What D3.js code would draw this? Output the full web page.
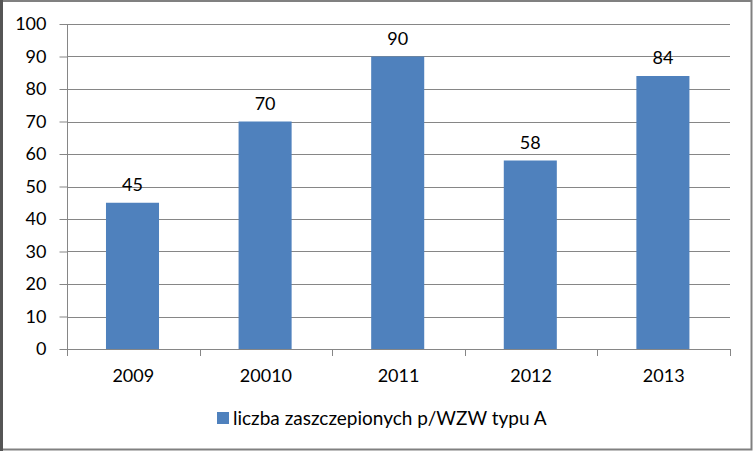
<!DOCTYPE html>
<html><head><meta charset="utf-8">
<script src="https://cdn.jsdelivr.net/npm/d3@7"></script>
<style>body{margin:0;background:#fff;}svg{display:block;font-family:Lato,"Open Sans",sans-serif;}</style>
</head><body>
<svg id="c" width="753" height="451"></svg>
<script>
const categories = ["2009","20010","2011","2012","2013"];
const values = [45,70,90,58,84];
const yTicks = [0,10,20,30,40,50,60,70,80,90,100];
const seriesName = "liczba zaszczepionych p/WZW typu A";

const svg = d3.select("#c");
const W = 753, H = 451;
const m = {left:67, right:730, top:24, bottom:349};
const color = "#4F81BD", grid = "#868686";

// frame
svg.append("rect").attr("x",1).attr("y",1).attr("width",W-2.5).attr("height",H-2.5)
  .attr("fill","#fff").attr("stroke","#808080").attr("stroke-width",2);
svg.append("line").attr("x1",1.5).attr("x2",1.5).attr("y1",0).attr("y2",H).attr("stroke","#555").attr("stroke-width",3);

const x = d3.scaleBand().domain(categories).range([m.left,m.right]).paddingInner(0).paddingOuter(0);
const y = d3.scaleLinear().domain([0,100]).range([m.bottom,m.top]);

// gridlines
svg.append("g").selectAll("line").data(yTicks.filter(d=>d>0)).join("line")
  .attr("x1",m.left).attr("x2",m.right).attr("y1",d=>Math.round(y(d))+0.5).attr("y2",d=>Math.round(y(d))+0.5)
  .attr("stroke",grid).attr("stroke-width",1);

// y axis
const ya = svg.append("g").attr("transform",`translate(${m.left+0.5},0)`)
  .call(d3.axisLeft(y).tickValues(yTicks).tickSize(8).tickPadding(13).tickFormat(d3.format("d")));
ya.select(".domain").attr("stroke",grid).attr("d",`M0,${m.top}V${m.bottom}`);
ya.selectAll(".tick line").attr("stroke",grid);
ya.selectAll(".tick text").attr("font-size",18).attr("font-family","Lato").attr("fill","#000");

// bars
const bw = x.bandwidth()*0.4;
svg.append("g").selectAll("rect").data(values).join("rect")
  .attr("x",(d,i)=>x(categories[i])+x.bandwidth()/2-bw/2-0.8)
  .attr("width",bw)
  .attr("y",d=>y(d)).attr("height",d=>m.bottom-y(d))
  .attr("fill",color);

// x axis
const xa = svg.append("g").attr("transform",`translate(0,${m.bottom+0.5})`)
  .call(d3.axisBottom(x).tickSize(0).tickPadding(20));
xa.select(".domain").attr("stroke",grid).attr("d",`M${m.left},0H${m.right}`);
xa.selectAll(".tick text").attr("font-size",18).attr("font-family","Lato").attr("fill","#000");
// category boundary ticks
const bounds = categories.map(c=>x(c)).concat([m.right]);
svg.append("g").selectAll("line").data(bounds).join("line")
  .attr("x1",d=>Math.round(d)+0.5).attr("x2",d=>Math.round(d)+0.5)
  .attr("y1",m.bottom).attr("y2",m.bottom+7).attr("stroke",grid);

// data labels
svg.append("g").selectAll("text").data(values).join("text")
  .attr("x",(d,i)=>x(categories[i])+x.bandwidth()/2-0.8)
  .attr("y",d=>y(d)-12)
  .attr("text-anchor","middle").attr("font-size",18).attr("fill","#000")
  .text(d=>d);

// legend
const lg = svg.append("g");
lg.append("rect").attr("x",217).attr("y",412).attr("width",12).attr("height",12).attr("fill",color);
lg.append("text").attr("x",233).attr("y",425).attr("font-size",19).attr("fill","#000").text(seriesName);
</script>
</body></html>
